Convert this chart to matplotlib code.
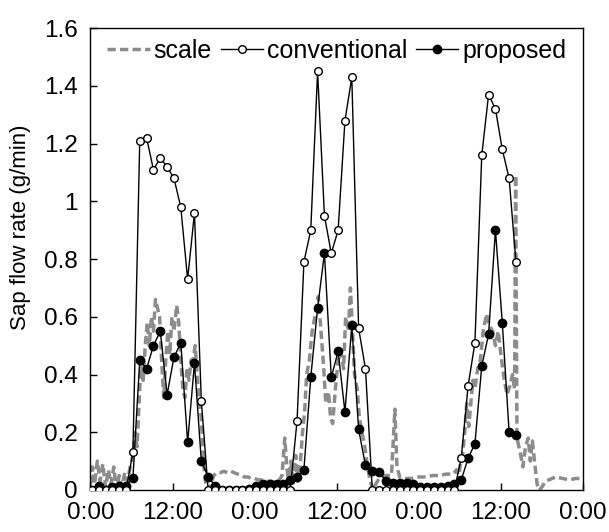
import matplotlib
matplotlib.use("Agg")
import matplotlib.pyplot as plt

plt.rcParams['font.family'] = ['Liberation Sans', 'DejaVu Sans']

# hourly samples, hour index k -> time k + 0.2 h
hours = [k + 0.2 for k in range(63)]

conventional = [0, 0, 0, 0, 0, 0, 0.13, 1.21, 1.22, 1.11, 1.15, 1.12, 1.08, 0.98, 0.73, 0.96, 0.31,
                0, 0, 0, 0, 0, 0, 0, 0, 0, 0, 0, 0, 0,
                0.24, 0.79, 0.90, 1.45, 0.95, 0.82, 0.90, 1.28, 1.43, 0.56, 0.42,
                0, 0, 0, 0, 0, 0, 0, 0, 0, 0, 0, 0, 0,
                0.11, 0.36, 0.51, 1.16, 1.37, 1.32, 1.18, 1.08, 0.79]

proposed = [0.0, 0.015, 0.0, 0.01, 0.015, 0.015, 0.04, 0.45, 0.42, 0.50, 0.55, 0.33, 0.46, 0.51, 0.165, 0.44, 0.10,
            0.045, 0.015, 0.0, 0.0, 0.0, 0.0, 0.005, 0.015, 0.02, 0.02, 0.02, 0.02, 0.035,
            0.045, 0.07, 0.39, 0.63, 0.82, 0.39, 0.48, 0.27, 0.57, 0.21, 0.085,
            0.065, 0.063, 0.03, 0.025, 0.025, 0.025, 0.02, 0.01, 0.01, 0.01, 0.01, 0.015, 0.02,
            0.034, 0.11, 0.16, 0.43, 0.54, 0.90, 0.58, 0.20, 0.19]

scale_t = [0.0, 0.3, 0.6, 1.0, 1.4, 1.8, 2.2, 2.6, 3.0, 3.4, 3.8, 4.2, 4.6, 5.0, 5.4, 5.8, 6.2,
           6.5, 6.8, 7.1, 7.4, 7.7, 8.0, 8.3, 8.6, 8.9, 9.2, 9.5, 9.8, 10.1, 10.4, 10.7, 11.0,
           11.3, 11.6, 11.9, 12.2, 12.6, 12.9, 13.2, 13.5, 13.8, 14.1, 14.4, 14.7, 15.0, 15.3,
           15.6, 15.9, 16.2, 16.5, 16.8,
           17.2, 17.6, 18.0, 18.5, 19.0, 19.5, 20.0, 20.5, 21.0, 21.5, 22.0, 22.5, 23.0, 23.5,
           24.0, 24.5, 25.0, 25.5, 26.0, 26.5, 27.0, 27.5, 28.0, 28.4, 28.7, 29.0, 29.3, 29.6,
           30.0, 30.3, 30.7, 31.0,
           31.3, 31.6, 32.0, 32.4, 32.8, 33.3, 33.7, 34.1, 34.4, 34.8, 35.1, 35.4, 35.8, 36.2,
           36.6, 37.0, 37.3, 37.7, 38.0, 38.3, 38.6, 39.0, 39.3, 39.7, 40.1, 40.5, 40.9, 41.3,
           41.7, 42.2, 42.8, 43.4, 44.0, 44.5, 44.8, 45.2, 46.0, 47.0, 48.0, 49.0, 50.0, 51.0,
           52.0, 53.0, 53.5, 53.8,
           54.1, 54.4, 54.7, 55.0, 55.3, 55.6, 55.9, 56.2, 56.6, 57.0, 57.4, 57.9, 58.3, 58.8,
           59.2, 59.6, 60.1, 60.5, 60.9, 61.3, 61.7, 62.0, 62.15, 62.35, 62.9, 63.2, 63.6, 64.0,
           64.3, 64.6, 65.0, 65.3, 65.6, 66.0, 66.5, 67.0, 68.0, 69.0, 70.0, 71.0, 72.0]
scale_v = [0.02, 0.08, 0.02, 0.1, 0.03, 0.09, 0.01, 0.07, 0.02, 0.08, 0.0, 0.05, 0.01, 0.06, 0.03, 0.08, 0.12,
           0.2, 0.15, 0.3, 0.45, 0.38, 0.5, 0.58, 0.5, 0.6, 0.55, 0.66, 0.63, 0.6, 0.45, 0.32, 0.45,
           0.55, 0.47, 0.6, 0.55, 0.64, 0.58, 0.45, 0.35, 0.32, 0.42, 0.38, 0.45, 0.45, 0.5,
           0.4, 0.3, 0.25, 0.1, 0.03,
           0.0, 0.02, 0.05, 0.06, 0.06, 0.065, 0.06, 0.065, 0.06, 0.055, 0.05, 0.045, 0.045, 0.04,
           0.04, 0.035, 0.035, 0.03, 0.03, 0.03, 0.025, 0.03, 0.05, 0.18, 0.08, 0.02, 0.1, 0.02,
           0.12, 0.03, 0.1, 0.2,
           0.27, 0.4, 0.45, 0.55, 0.6, 0.67, 0.55, 0.42, 0.3, 0.34, 0.25, 0.23, 0.35, 0.45,
           0.48, 0.42, 0.6, 0.55, 0.7, 0.55, 0.4, 0.35, 0.25, 0.2, 0.15, 0.08, 0.03, 0.0,
           0.02, 0.04, 0.05, 0.05, 0.05, 0.28, 0.08, 0.045, 0.04, 0.04, 0.045, 0.045, 0.05, 0.05,
           0.055, 0.055, 0.07, 0.03,
           0.1, 0.12, 0.2, 0.3, 0.22, 0.3, 0.38, 0.35, 0.42, 0.45, 0.55, 0.61, 0.57, 0.55,
           0.5, 0.55, 0.45, 0.38, 0.33, 0.36, 0.4, 0.35, 1.09, 0.18, 0.12, 0.08, 0.15, 0.18,
           0.1, 0.17, 0.08, 0.02, 0.0, 0.01, 0.03, 0.035, 0.045, 0.04, 0.035, 0.04, 0.04]

xticks = [0, 12, 24, 36, 48, 60, 72]
xlabels = ["0:00", "12:00", "0:00", "12:00", "0:00", "12:00", "0:00"]
yticks = [0, 0.2, 0.4, 0.6, 0.8, 1.0, 1.2, 1.4, 1.6]
ylabels = ["0", "0.2", "0.4", "0.6", "0.8", "1", "1.2", "1.4", "1.6"]

fig = plt.figure(figsize=(6.09, 5.32), dpi=100)
ax = fig.add_axes([0.1486, 0.079, 0.8087, 0.868])

ax.plot(scale_t, scale_v, color='#8c8c8c', lw=2.5, dashes=(2.4, 1.2), label='scale', zorder=2)
ax.plot(hours, proposed, color='black', lw=1.0, marker='o', ms=6.0, mfc='black', mec='black',
        label='proposed', zorder=3)
ax.plot(hours, conventional, color='black', lw=1.0, marker='o', ms=5.5, mfc='white', mec='black',
        mew=1.0, label='conventional', zorder=4)

ax.set_xlim(0, 72)
ax.set_ylim(0, 1.6)
ax.set_xticks(xticks)
ax.set_xticklabels(xlabels)
ax.set_yticks(yticks)
ax.set_yticklabels(ylabels)
ax.tick_params(direction='in', length=5, width=1, labelsize=17.5, pad=9)
for s in ax.spines.values():
    s.set_linewidth(1.0)

ax.set_ylabel('Sap flow rate (g/min)', fontsize=16)
ax.yaxis.set_label_coords(-0.12, 0.57)

h, l = ax.get_legend_handles_labels()
order = [0, 2, 1]
ax.legend([h[i] for i in order], [l[i] for i in order], loc='upper center',
          bbox_to_anchor=(0.5, 1.01), ncol=3, frameon=False, fontsize=18,
          handlelength=1.7, handletextpad=0.15, columnspacing=0.35, borderaxespad=0.2)

fig.savefig('out.png', dpi=100)
